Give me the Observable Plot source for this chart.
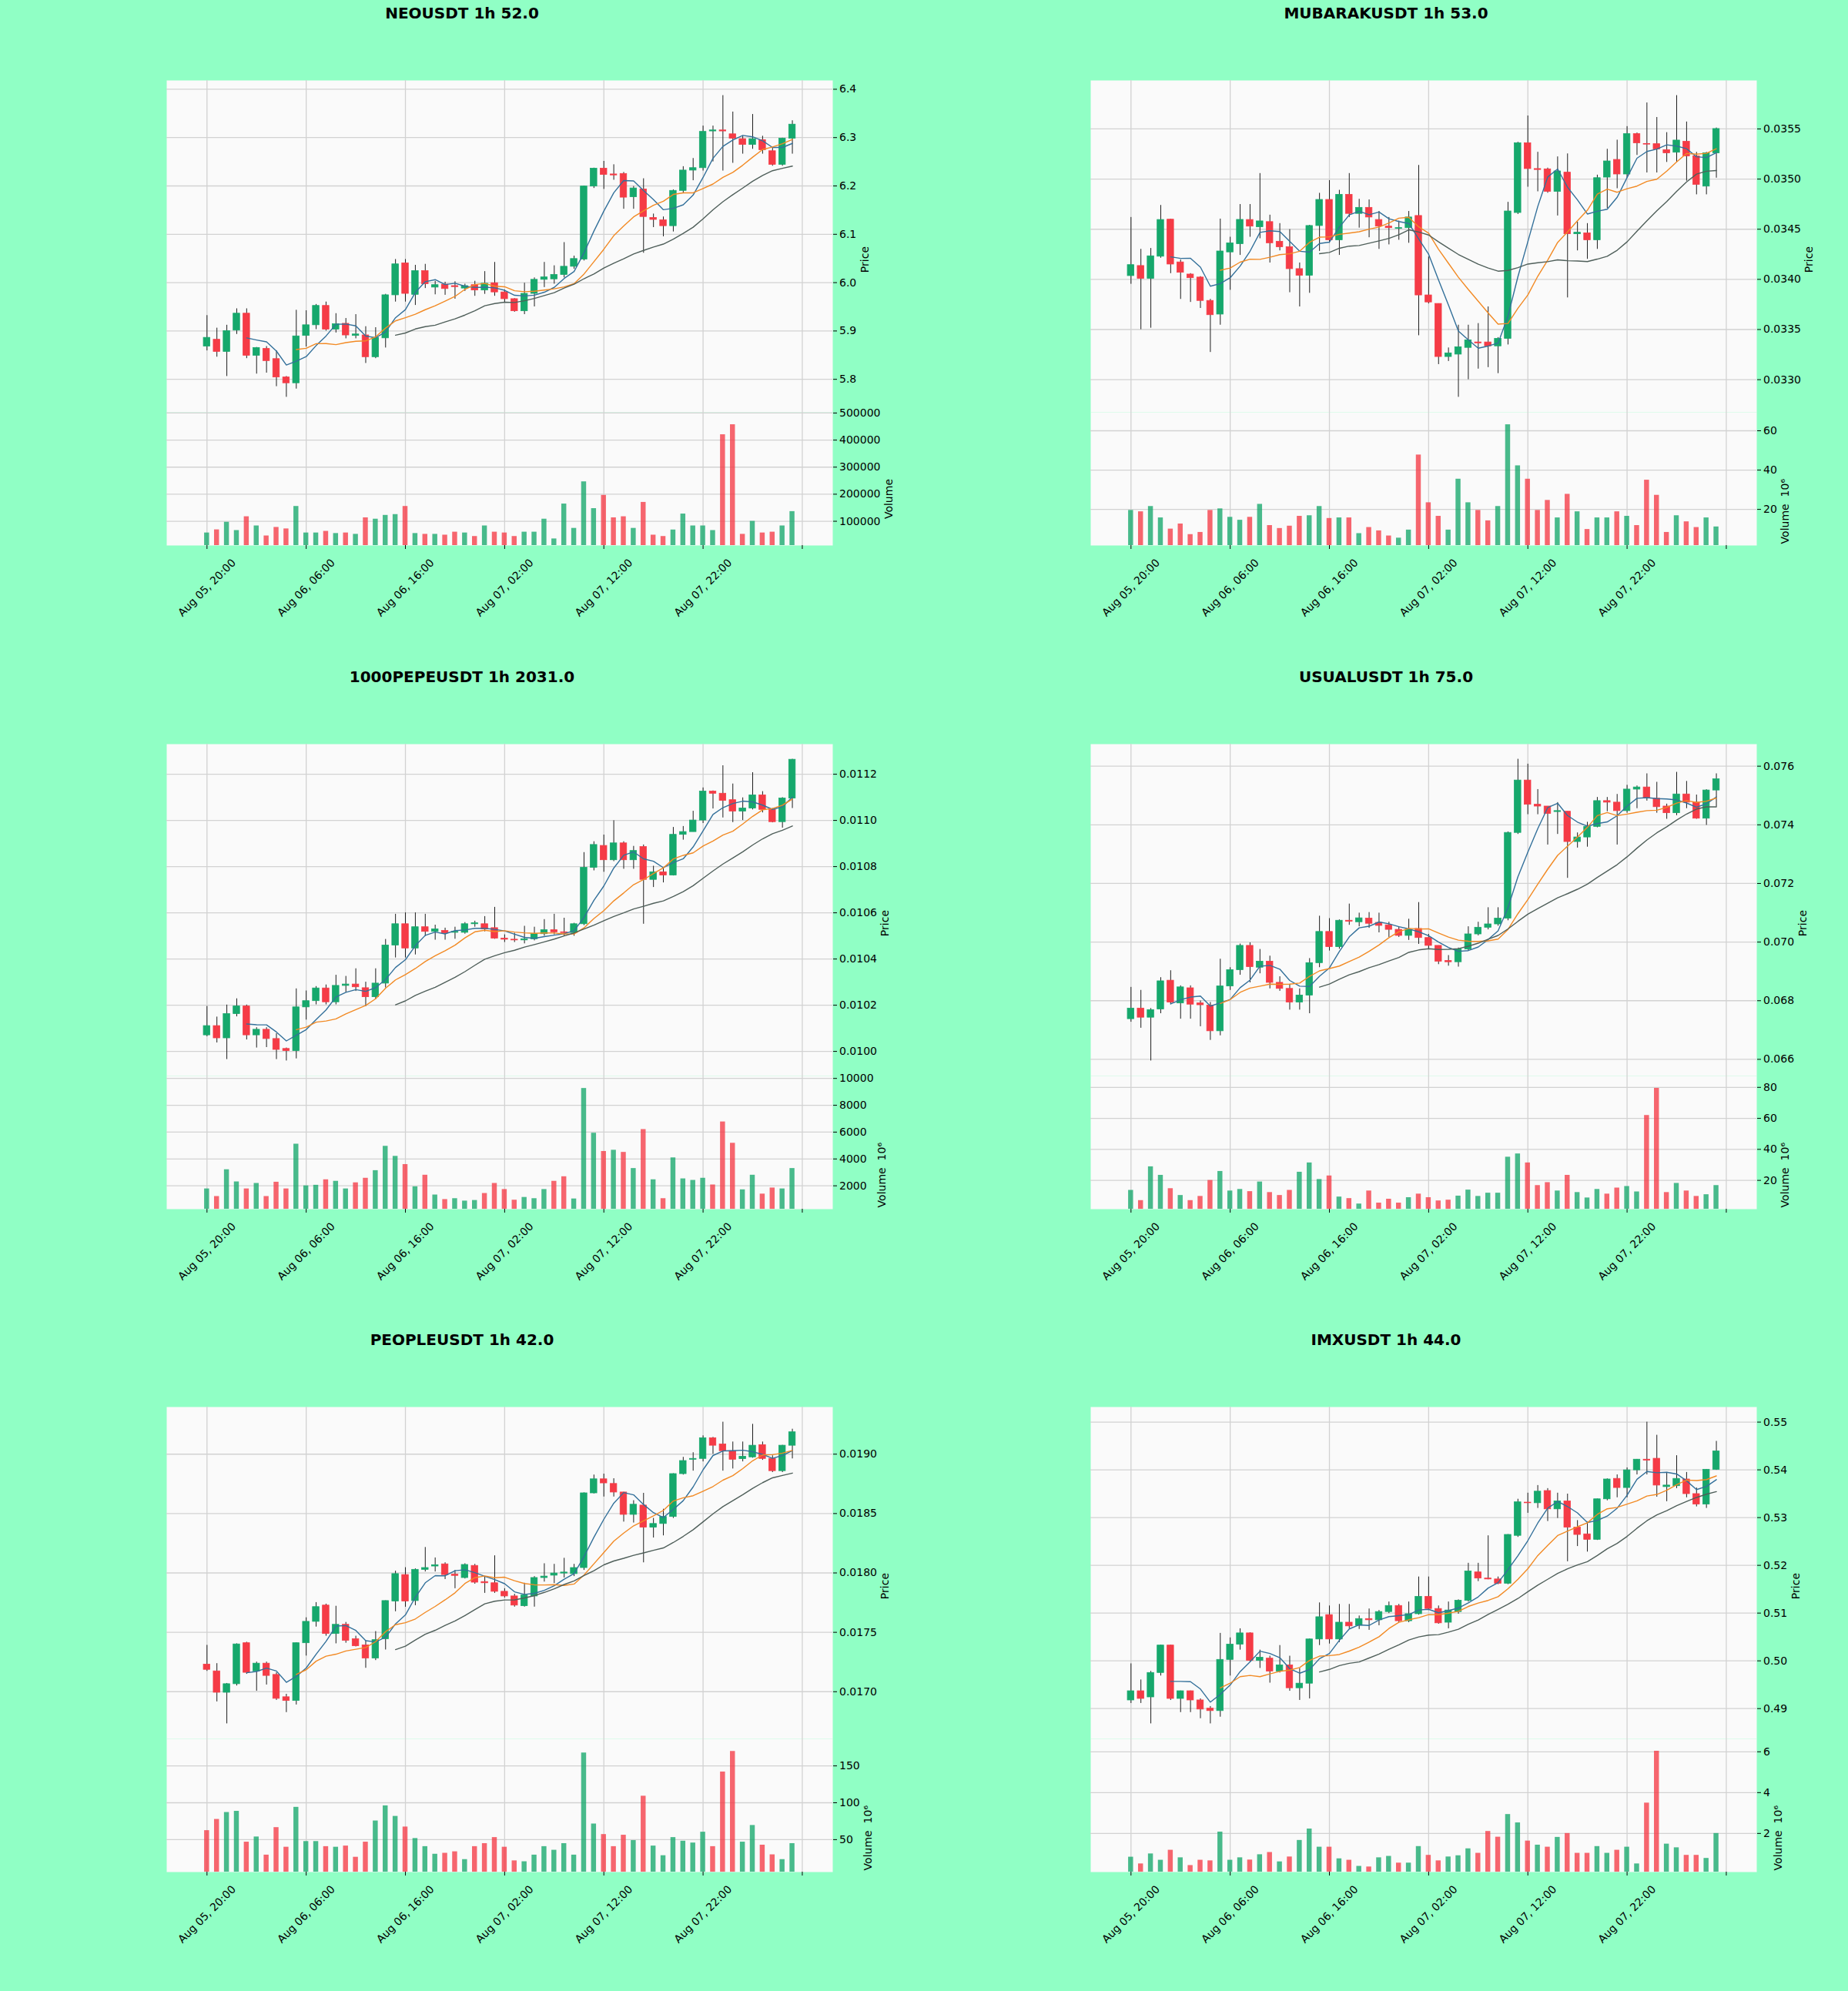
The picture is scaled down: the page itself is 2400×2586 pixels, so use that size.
<!DOCTYPE html>
<html><head><meta charset="utf-8">
<script src="https://cdn.jsdelivr.net/npm/d3@7"></script>
<script src="https://cdn.jsdelivr.net/npm/@observablehq/plot@0.6"></script>
<style>
html,body{margin:0;padding:0;background:#90ffc5;}
#fig{position:relative;width:2400px;height:2586px;background:#90ffc5;font-family:"DejaVu Sans",sans-serif;overflow:hidden;}
.title{position:absolute;width:1200px;text-align:center;font-weight:bold;font-size:20px;color:#000;line-height:20px;}
.panel{position:absolute;width:1005px;line-height:0;}
.panel svg{overflow:visible;max-width:none !important;display:block;}
</style></head><body><div id="fig"></div>
<script>
// ---------- titles & axis labels ----------
const titles = ["NEOUSDT 1h 52.0","MUBARAKUSDT 1h 53.0","1000PEPEUSDT 1h 2031.0","USUALUSDT 1h 75.0","PEOPLEUSDT 1h 42.0","IMXUSDT 1h 44.0"];
const xTickIndex = [0,10,20,30,40,50,60];
const xTickLabels = ["Aug 05, 20:00","Aug 06, 06:00","Aug 06, 16:00","Aug 07, 02:00","Aug 07, 12:00","Aug 07, 22:00",""];
const volumeLabels = ["Volume","Volume  10\u2076","Volume  10\u2076","Volume  10\u2076","Volume  10\u2076","Volume  10\u2076"];

// ---------- NEOUSDT ----------
const neoOpen = [5.868,5.882,5.857,5.901,5.936,5.849,5.863,5.842,5.804,5.792,5.890,5.912,5.952,5.903,5.915,5.890,5.891,5.846,5.885,5.974,6.040,5.975,6.024,5.990,5.996,5.993,5.988,5.995,5.984,5.999,5.980,5.966,5.941,5.977,6.006,6.007,6.016,6.033,6.048,6.199,6.236,6.224,6.225,6.177,6.193,6.134,6.129,6.117,6.190,6.232,6.237,6.313,6.315,6.307,6.297,6.285,6.295,6.272,6.244,6.298];
const neoHigh = [5.932,5.906,5.912,5.946,5.946,5.866,5.868,5.859,5.806,5.943,5.942,5.955,5.960,5.936,5.926,5.934,5.909,5.907,5.976,6.048,6.048,6.036,6.038,6.003,6.001,6.002,5.997,6.003,6.023,6.042,5.985,5.967,5.999,6.010,6.042,6.035,6.083,6.055,6.200,6.237,6.251,6.244,6.228,6.199,6.215,6.142,6.136,6.192,6.240,6.257,6.324,6.324,6.387,6.353,6.303,6.348,6.303,6.278,6.299,6.335];
const neoLow = [5.859,5.846,5.806,5.893,5.843,5.811,5.813,5.785,5.763,5.780,5.867,5.903,5.900,5.896,5.884,5.884,5.833,5.843,5.865,5.960,5.960,5.953,5.988,5.975,5.974,5.966,5.982,5.972,5.976,5.972,5.959,5.939,5.934,5.950,5.990,5.997,6.010,6.028,6.045,6.195,6.193,6.212,6.152,6.152,6.061,6.114,6.095,6.105,6.184,6.211,6.231,6.250,6.231,6.247,6.266,6.276,6.266,6.241,6.241,6.266];
const neoClose = [5.886,5.857,5.900,5.936,5.849,5.865,5.838,5.804,5.792,5.889,5.912,5.952,5.903,5.914,5.891,5.893,5.846,5.886,5.974,6.038,5.977,6.024,5.997,5.995,5.987,5.991,5.993,5.984,5.998,5.980,5.966,5.941,5.977,6.006,6.011,6.016,6.033,6.049,6.199,6.236,6.223,6.222,6.176,6.195,6.136,6.130,6.117,6.190,6.232,6.237,6.312,6.315,6.313,6.298,6.285,6.297,6.274,6.244,6.298,6.327];
const neoVolume = [57000,68500,96600,66000,117000,83000,46000,77500,72000,155000,57000,57000,63000,55000,57000,52000,113000,108000,122000,125000,155000,55000,52000,52000,49000,60000,57000,44000,83000,60000,57000,44000,60000,60000,108000,35000,164000,74000,246000,147000,196000,113000,117000,74000,170000,49000,44000,68000,127000,83000,83000,66000,420000,457000,52000,100000,57000,60000,83000,136000];
const neoPriceTicks = [5.8,5.9,6.0,6.1,6.2,6.3,6.4];
const neoVolumeTicks = [100000,200000,300000,400000,500000];

// ---------- MUBARAKUSDT ----------
const mubOpen = [0.034034,0.034134,0.034007,0.034227,0.034596,0.034170,0.034049,0.034019,0.033786,0.033650,0.034270,0.034352,0.034593,0.034521,0.034572,0.034376,0.034321,0.034103,0.034037,0.034533,0.034793,0.034391,0.034844,0.034654,0.034714,0.034593,0.034527,0.034505,0.034512,0.034633,0.033841,0.033756,0.033227,0.033251,0.033318,0.033372,0.033372,0.033333,0.033408,0.034663,0.035358,0.035101,0.035098,0.034874,0.035065,0.034451,0.034460,0.034391,0.035016,0.035192,0.035047,0.035449,0.035351,0.035349,0.035289,0.035264,0.035373,0.035228,0.034926,0.035258];
const mubHigh = [0.034618,0.034300,0.034309,0.034738,0.034600,0.034194,0.034058,0.034028,0.033801,0.034602,0.034421,0.034747,0.034747,0.035056,0.034641,0.034557,0.034497,0.034164,0.034540,0.034859,0.034986,0.034889,0.035056,0.034799,0.034793,0.034678,0.034618,0.034582,0.034678,0.035137,0.034224,0.033756,0.033317,0.033544,0.033544,0.033560,0.033726,0.033420,0.034769,0.035368,0.035630,0.035268,0.035110,0.035222,0.035252,0.034572,0.034557,0.035040,0.035298,0.035389,0.035524,0.035460,0.035760,0.035615,0.035464,0.035833,0.035570,0.035267,0.035267,0.035510];
const mubLow = [0.033952,0.033499,0.033514,0.034212,0.034058,0.033801,0.033771,0.033711,0.033272,0.033544,0.033892,0.034240,0.034421,0.034406,0.034164,0.034285,0.033868,0.033726,0.033862,0.034280,0.034361,0.034240,0.034618,0.034512,0.034416,0.034300,0.034345,0.034391,0.034361,0.033439,0.033756,0.033151,0.033182,0.032825,0.033000,0.033106,0.033121,0.033061,0.033347,0.034648,0.034920,0.034874,0.034860,0.034633,0.033816,0.034285,0.034201,0.034300,0.034708,0.034905,0.035010,0.035237,0.035062,0.035062,0.035167,0.035167,0.034980,0.034844,0.034844,0.035010];
const mubClose = [0.034143,0.034007,0.034231,0.034593,0.034149,0.034067,0.034013,0.033786,0.033644,0.034279,0.034360,0.034594,0.034527,0.034579,0.034361,0.034321,0.034103,0.034037,0.034533,0.034793,0.034391,0.034844,0.034654,0.034714,0.034618,0.034527,0.034512,0.034512,0.034618,0.033841,0.033771,0.033227,0.033263,0.033324,0.033393,0.033363,0.033333,0.033408,0.034678,0.035358,0.035101,0.035092,0.034874,0.035077,0.034451,0.034466,0.034391,0.035010,0.035177,0.035047,0.035449,0.035358,0.035345,0.035297,0.035258,0.035385,0.035228,0.034944,0.035258,0.035500];
const mubVolume = [19.5,18.8,21.5,15.7,10.0,12.6,7.2,8.3,19.5,20.3,16.0,14.5,16.0,22.6,11.8,10.3,11.5,16.5,16.8,21.5,15.4,15.7,15.7,7.7,10.8,9.1,6.5,5.4,9.5,47.7,23.4,16.5,9.5,35.4,23.4,19.5,14.2,21.5,63.1,42.2,35.4,19.5,24.6,15.7,27.7,18.8,9.8,15.7,15.7,18.8,16.5,11.8,34.9,27.2,8.3,16.8,13.7,10.8,15.7,11.1];
const mubPriceTicks = [0.0330,0.0335,0.0340,0.0345,0.0350,0.0355];
const mubVolumeTicks = [20,40,60];

// ---------- 1000PEPEUSDT ----------
const pepeOpen = [0.010070,0.010110,0.010057,0.010162,0.010195,0.010070,0.010094,0.010054,0.010011,0.010002,0.010191,0.010218,0.010273,0.010213,0.010284,0.010290,0.010274,0.010235,0.010294,0.010459,0.010551,0.010446,0.010538,0.010518,0.010522,0.010514,0.010514,0.010551,0.010551,0.010534,0.010489,0.010484,0.010481,0.010486,0.010508,0.010525,0.010516,0.010513,0.010551,0.010795,0.010890,0.010828,0.010901,0.010828,0.010885,0.010743,0.010776,0.010762,0.010938,0.010950,0.011000,0.011125,0.011116,0.011088,0.011039,0.011052,0.011109,0.011046,0.010993,0.011095];
const pepeHigh = [0.010195,0.010149,0.010201,0.010228,0.010201,0.010103,0.010103,0.010077,0.010015,0.010271,0.010262,0.010281,0.010288,0.010330,0.010325,0.010358,0.010300,0.010358,0.010485,0.010594,0.010600,0.010600,0.010594,0.010547,0.010534,0.010538,0.010558,0.010564,0.010584,0.010624,0.010505,0.010512,0.010542,0.010538,0.010571,0.010594,0.010577,0.010555,0.010861,0.010908,0.010937,0.010999,0.010908,0.010888,0.010894,0.010802,0.010796,0.010970,0.010974,0.011040,0.011141,0.011128,0.011237,0.011158,0.011098,0.011207,0.011125,0.011052,0.011099,0.011265];
const pepeLow = [0.010064,0.010037,0.009965,0.010150,0.010050,0.010015,0.010017,0.009965,0.009959,0.009968,0.010136,0.010202,0.010202,0.010202,0.010255,0.010260,0.010194,0.010226,0.010275,0.010405,0.010405,0.010418,0.010498,0.010482,0.010482,0.010486,0.010508,0.010538,0.010518,0.010486,0.010472,0.010472,0.010466,0.010479,0.010499,0.010505,0.010499,0.010499,0.010545,0.010782,0.010776,0.010822,0.010789,0.010789,0.010551,0.010710,0.010730,0.010760,0.010915,0.010950,0.010987,0.011050,0.011011,0.010991,0.011000,0.011046,0.011033,0.010990,0.010967,0.011052];
const pepeClose = [0.010110,0.010057,0.010162,0.010195,0.010070,0.010094,0.010054,0.010007,0.010002,0.010191,0.010218,0.010273,0.010213,0.010284,0.010290,0.010278,0.010235,0.010294,0.010459,0.010551,0.010446,0.010538,0.010518,0.010529,0.010512,0.010518,0.010551,0.010555,0.010529,0.010489,0.010484,0.010481,0.010486,0.010508,0.010525,0.010516,0.010513,0.010551,0.010795,0.010894,0.010828,0.010901,0.010828,0.010868,0.010743,0.010776,0.010762,0.010938,0.010950,0.011000,0.011125,0.011116,0.011085,0.011039,0.011052,0.011109,0.011046,0.010993,0.011095,0.011263];
const pepeVolume = [1773,1206,3202,2295,1773,2181,1206,2272,1773,5107,2000,2045,2454,2340,1773,2227,2567,3134,4948,4200,3588,1932,2794,1320,979,1047,866,911,1433,2181,1728,934,1138,1047,1728,2340,2680,1025,9258,5924,4563,4654,4495,3293,6196,2454,1047,4087,2522,2408,2567,2068,6763,5175,1705,2794,1388,1841,1773,3293];
const pepePriceTicks = [0.0100,0.0102,0.0104,0.0106,0.0108,0.0110,0.0112];
const pepeVolumeTicks = [2000,4000,6000,8000,10000];

// ---------- USUALUSDT ----------
const usualOpen = [0.067374,0.067735,0.067425,0.067704,0.068686,0.067911,0.068427,0.067911,0.067839,0.066961,0.068490,0.069047,0.069874,0.069130,0.069336,0.068613,0.068407,0.067942,0.068180,0.069285,0.070349,0.069832,0.070731,0.070680,0.070803,0.070659,0.070576,0.070421,0.070215,0.070452,0.070142,0.069874,0.069357,0.069316,0.069750,0.070266,0.070493,0.070607,0.070803,0.073727,0.075514,0.074688,0.074626,0.074440,0.074450,0.073417,0.073572,0.073934,0.074812,0.074760,0.074471,0.075205,0.075277,0.074894,0.074626,0.074399,0.075039,0.074760,0.074213,0.075174];
const usualHigh = [0.068458,0.068355,0.067735,0.068789,0.069026,0.068510,0.068510,0.067994,0.067942,0.069419,0.069130,0.069936,0.069977,0.069750,0.069523,0.068820,0.068562,0.068407,0.069440,0.070886,0.070804,0.070760,0.071299,0.070990,0.071010,0.070990,0.070680,0.070525,0.070783,0.071351,0.070266,0.069874,0.069543,0.069800,0.070525,0.070680,0.071175,0.071175,0.073760,0.076238,0.076072,0.075205,0.074626,0.074760,0.074450,0.073727,0.074089,0.074936,0.074936,0.075039,0.075350,0.075328,0.075742,0.075453,0.074709,0.075793,0.075483,0.075018,0.075200,0.075742];
const usualLow = [0.067270,0.067064,0.065948,0.067560,0.067870,0.067374,0.067374,0.067116,0.066650,0.066806,0.068354,0.068872,0.068613,0.068923,0.068407,0.068324,0.067683,0.067683,0.067560,0.069130,0.069698,0.069760,0.070576,0.070525,0.070473,0.070318,0.070163,0.070163,0.070060,0.069925,0.069750,0.069234,0.069182,0.069150,0.069698,0.070215,0.070421,0.070545,0.070731,0.073675,0.074348,0.074348,0.073314,0.073675,0.072178,0.073210,0.073241,0.073902,0.074450,0.073314,0.074399,0.074554,0.074812,0.074399,0.074192,0.074316,0.074554,0.074192,0.073985,0.074606];
const usualClose = [0.067735,0.067425,0.067683,0.068665,0.067942,0.068458,0.067870,0.067849,0.066961,0.068490,0.069047,0.069874,0.069150,0.069336,0.068613,0.068407,0.067942,0.068180,0.069285,0.070349,0.069832,0.070731,0.070700,0.070814,0.070628,0.070556,0.070421,0.070215,0.070421,0.070142,0.069874,0.069337,0.069316,0.069750,0.070266,0.070493,0.070607,0.070803,0.073727,0.075514,0.074688,0.074626,0.074378,0.074471,0.073417,0.073572,0.073934,0.074812,0.074760,0.074471,0.075205,0.075277,0.074915,0.074605,0.074399,0.075039,0.074760,0.074213,0.075174,0.075556];
const usualVolume = [13.6,7.0,28.8,23.3,14.7,10.3,7.0,9.7,20.0,25.8,13.2,14.2,12.8,19.0,12.2,10.3,13.6,25.3,31.3,20.6,22.9,9.3,8.3,4.8,13.2,5.4,7.9,5.4,8.9,11.2,8.9,6.8,7.3,9.9,13.8,9.7,11.8,11.8,35.0,37.1,31.3,16.7,18.6,13.2,23.3,12.2,8.7,14.2,11.2,15.1,16.1,12.6,61.9,79.4,12.2,18.1,13.2,9.7,10.8,16.7];
const usualPriceTicks = [0.066,0.068,0.070,0.072,0.074,0.076];
const usualVolumeTicks = [20,40,60,80];

// ---------- PEOPLEUSDT ----------
const peopleOpen = [0.017229,0.017172,0.016992,0.017064,0.017409,0.017172,0.017237,0.017142,0.016954,0.016923,0.017409,0.017589,0.017726,0.017487,0.017564,0.017443,0.017391,0.017281,0.017443,0.017761,0.017983,0.017764,0.018027,0.018055,0.018073,0.017986,0.017958,0.018060,0.017924,0.017914,0.017842,0.017803,0.017721,0.017803,0.017958,0.017978,0.017996,0.017991,0.018042,0.018671,0.018789,0.018750,0.018678,0.018490,0.018568,0.018382,0.018413,0.018472,0.018833,0.018954,0.018961,0.019134,0.019082,0.019026,0.018959,0.018974,0.019077,0.018961,0.018858,0.019072];
const peopleHigh = [0.017391,0.017237,0.017070,0.017404,0.017417,0.017250,0.017250,0.017160,0.016979,0.017412,0.017623,0.017751,0.017738,0.017720,0.017584,0.017468,0.017430,0.017507,0.017766,0.018016,0.018045,0.018035,0.018215,0.018127,0.018086,0.018022,0.018078,0.018073,0.017970,0.018145,0.017868,0.017821,0.017914,0.017970,0.018078,0.018073,0.018124,0.018073,0.018675,0.018825,0.018833,0.018794,0.018680,0.018609,0.018671,0.018460,0.018537,0.018836,0.018974,0.019013,0.019155,0.019142,0.019270,0.019103,0.019103,0.019252,0.019103,0.018987,0.019075,0.019211];
const peopleLow = [0.017172,0.016915,0.016730,0.017049,0.017147,0.017005,0.017057,0.016928,0.016825,0.016889,0.017301,0.017545,0.017468,0.017404,0.017409,0.017378,0.017198,0.017263,0.017352,0.017674,0.017712,0.017725,0.018009,0.018009,0.017945,0.017868,0.017950,0.017906,0.017829,0.017829,0.017790,0.017713,0.017713,0.017713,0.017924,0.017911,0.017958,0.017970,0.018022,0.018666,0.018640,0.018640,0.018429,0.018421,0.018086,0.018295,0.018313,0.018460,0.018825,0.018858,0.018936,0.019000,0.018858,0.018876,0.018936,0.018967,0.018949,0.018846,0.018846,0.018961];
const peopleClose = [0.017185,0.016992,0.017064,0.017399,0.017160,0.017237,0.017134,0.016941,0.016923,0.017409,0.017589,0.017713,0.017487,0.017564,0.017430,0.017384,0.017281,0.017435,0.017764,0.017991,0.017761,0.018027,0.018042,0.018066,0.017983,0.017976,0.018068,0.017919,0.017914,0.017842,0.017803,0.017726,0.017811,0.017958,0.017970,0.017996,0.018004,0.018042,0.018671,0.018789,0.018755,0.018678,0.018490,0.018575,0.018382,0.018413,0.018472,0.018833,0.018943,0.018961,0.019134,0.019072,0.019026,0.018954,0.018979,0.019072,0.018961,0.018858,0.019072,0.019185];
const peopleVolume = [62.3,77.5,86.9,88.5,46.7,53.7,29.1,66.4,39.8,93.9,47.5,47.5,40.6,39.8,41.4,26.2,46.7,75.4,95.9,81.6,67.2,51.6,40.6,30.3,31.6,33.6,23.0,40.6,44.7,52.9,39.8,21.3,20.1,29.1,40.6,35.7,44.7,29.1,167.6,71.3,57.0,40.6,56.1,48.8,109.0,41.4,28.3,52.9,48.0,45.5,60.2,40.6,141.8,169.7,46.7,69.3,42.6,29.5,23.0,44.7];
const peoplePriceTicks = [0.0170,0.0175,0.0180,0.0185,0.0190];
const peopleVolumeTicks = [50,100,150];

// ---------- IMXUSDT ----------
const imxOpen = [0.49173,0.49365,0.49237,0.49748,0.50322,0.49205,0.49365,0.49173,0.49000,0.48950,0.50022,0.50341,0.50577,0.50003,0.50048,0.49779,0.49907,0.49428,0.49524,0.50450,0.50960,0.50450,0.50801,0.50737,0.50877,0.50852,0.51024,0.51151,0.50832,0.50979,0.51343,0.51088,0.50801,0.51024,0.51260,0.51854,0.51726,0.51707,0.51618,0.52620,0.53315,0.53303,0.53558,0.53175,0.53341,0.52792,0.52651,0.52537,0.53385,0.53813,0.53622,0.53992,0.54215,0.54234,0.53641,0.53660,0.53800,0.53494,0.53277,0.54004];
const imxHigh = [0.49939,0.49601,0.49780,0.50330,0.50330,0.49370,0.49370,0.49205,0.49045,0.50577,0.50482,0.50673,0.50590,0.50226,0.50099,0.50322,0.50099,0.49843,0.50460,0.51215,0.51151,0.51183,0.51183,0.50941,0.51088,0.51056,0.51234,0.51183,0.51234,0.51758,0.51758,0.51151,0.51234,0.51279,0.52045,0.52045,0.52620,0.51758,0.52645,0.53386,0.53513,0.53673,0.53609,0.53513,0.53494,0.52939,0.52907,0.53390,0.53813,0.53896,0.54043,0.54220,0.55000,0.54726,0.53947,0.54298,0.53947,0.53622,0.54010,0.54598];
const imxLow = [0.49109,0.49109,0.48682,0.49684,0.49173,0.48918,0.48918,0.48790,0.48682,0.48822,0.49684,0.50226,0.49971,0.49843,0.49535,0.49748,0.49365,0.49173,0.49205,0.50322,0.50354,0.50386,0.50673,0.50660,0.50641,0.50737,0.50992,0.50801,0.50801,0.50960,0.51056,0.50769,0.50673,0.50979,0.51234,0.51662,0.51700,0.51598,0.51598,0.52588,0.53092,0.53194,0.52920,0.52984,0.52077,0.52396,0.52280,0.52524,0.53354,0.53417,0.53417,0.53896,0.53896,0.53430,0.53335,0.53609,0.53417,0.53226,0.53194,0.53992];
const imxClose = [0.49365,0.49205,0.49748,0.50322,0.49205,0.49365,0.49173,0.48982,0.48950,0.50022,0.50341,0.50577,0.50003,0.50067,0.49779,0.49907,0.49428,0.49524,0.50450,0.50915,0.50450,0.50801,0.50724,0.50877,0.50852,0.51024,0.51151,0.50832,0.50979,0.51343,0.51088,0.50788,0.51056,0.51260,0.51873,0.51726,0.51707,0.51618,0.52639,0.53322,0.53303,0.53545,0.53175,0.53341,0.52792,0.52639,0.52537,0.53385,0.53800,0.53622,0.53992,0.54215,0.54196,0.53673,0.53673,0.53813,0.53494,0.53277,0.54004,0.54387];
const imxVolume = [0.84,0.51,1.0,0.69,1.18,0.81,0.43,0.69,0.66,2.07,0.69,0.81,0.70,0.96,1.07,0.61,0.85,1.66,2.22,1.33,1.33,0.76,0.69,0.39,0.36,0.81,0.88,0.55,0.55,1.36,0.93,0.66,0.85,0.91,1.25,1.03,2.10,1.82,2.93,2.52,1.63,1.43,1.33,1.81,2.0,1.03,1.03,1.36,1.03,1.18,1.33,0.51,3.49,6.03,1.48,1.30,0.93,0.93,0.78,2.0];
const imxPriceTicks = [0.49,0.50,0.51,0.52,0.53,0.54,0.55];
const imxVolumeTicks = [2,4,6];

// ---------- styling ----------
const UP = "#16a86c", DOWN = "#f53b46", WICK = "#1e1e1e";
const MA_COLORS = ["#33709a", "#f28a24", "#4f5f5a"];
const MA_WINDOWS = [5, 10, 20];
const GRID = "#d2d2d2";
const FONT = "DejaVu Sans";
const colX = [216, 1416];
const rowY = [104, 966, 1827];
const plotW = 865, priceH = 431, volH = 173;
const xDomain = [-4.06, 63.07];
const mR = 140, mB = 130;

const panels = [
  {o:neoOpen,h:neoHigh,l:neoLow,c:neoClose,v:neoVolume,pt:neoPriceTicks,vt:neoVolumeTicks,dec:1},
  {o:mubOpen,h:mubHigh,l:mubLow,c:mubClose,v:mubVolume,pt:mubPriceTicks,vt:mubVolumeTicks,dec:4},
  {o:pepeOpen,h:pepeHigh,l:pepeLow,c:pepeClose,v:pepeVolume,pt:pepePriceTicks,vt:pepeVolumeTicks,dec:4},
  {o:usualOpen,h:usualHigh,l:usualLow,c:usualClose,v:usualVolume,pt:usualPriceTicks,vt:usualVolumeTicks,dec:3},
  {o:peopleOpen,h:peopleHigh,l:peopleLow,c:peopleClose,v:peopleVolume,pt:peoplePriceTicks,vt:peopleVolumeTicks,dec:4},
  {o:imxOpen,h:imxHigh,l:imxLow,c:imxClose,v:imxVolume,pt:imxPriceTicks,vt:imxVolumeTicks,dec:2}
];

// approximate DejaVu Sans width of numeric labels
function textW(s, size) {
  let w = 0;
  for (const ch of s) w += (ch === "." ? 0.318 : 0.636);
  return w * size;
}
function movingAvg(c, n) {
  return c.map((_, i) => i < n - 1 ? NaN : d3.mean(c.slice(i - n + 1, i + 1)));
}

const fig = document.getElementById("fig");

panels.forEach((p, k) => {
  const col = k % 2, row = Math.floor(k / 2);
  const left = colX[col], top = rowY[row];

  const data = p.o.map((_, i) => ({
    i, open: p.o[i], high: p.h[i], low: p.l[i], close: p.c[i], vol: p.v[i],
    col: p.c[i] >= p.o[i] ? UP : DOWN
  }));
  const mas = MA_WINDOWS.map(n => movingAvg(p.c, n));
  mas.forEach((m, j) => data.forEach((d, i) => d["ma" + j] = m[i]));

  const lo = d3.min(p.l), hi = d3.max(p.h), r = hi - lo;
  const yDomain = [lo - 0.05 * r, hi + 0.05 * r];
  const vDomain = [0.3 * d3.min(p.v), 1.1 * d3.max(p.v)];

  const fmtP = d3.format("." + p.dec + "f");
  const fmtV = d3.format("d");
  const pw = d3.max(p.pt, t => textW(fmtP(t), 14));
  const vw = d3.max(p.vt, t => textW(fmtV(t), 14));

  const t = document.createElement("div");
  t.className = "title";
  t.style.left = (col * 1200) + "px";
  t.style.top = (top - 97) + "px";
  t.textContent = titles[k];
  fig.appendChild(t);

  const common = {
    style: {background: "transparent", fontFamily: FONT, fontSize: "14px", color: "#000", overflow: "visible", maxWidth: "none"},
    color: {type: "identity"}
  };

  const price = Plot.plot({
    ...common,
    width: plotW + mR, height: priceH,
    marginLeft: 0, marginRight: mR, marginTop: 0, marginBottom: 0,
    x: {domain: xDomain, axis: null},
    y: {domain: yDomain, axis: null},
    marks: [
      Plot.frame({fill: "#fafafa", stroke: null}),
      Plot.gridX(xTickIndex, {stroke: GRID, strokeOpacity: 1, strokeWidth: 1.3}),
      Plot.gridY(p.pt, {stroke: GRID, strokeOpacity: 1, strokeWidth: 1.3}),
      Plot.ruleX(data, {x: "i", y1: "low", y2: "high", stroke: WICK, strokeWidth: 1}),
      Plot.rect(data, {x1: d => d.i - 0.33, x2: d => d.i + 0.33, y1: "open", y2: "close", fill: "col", stroke: "col", strokeWidth: 0.8}),
      ...MA_COLORS.map((c, j) => Plot.line(data, {x: "i", y: "ma" + j, stroke: c, strokeWidth: 1.4})),
      Plot.axisY(p.pt, {anchor: "right", tickSize: 5, tickPadding: 3.5, tickFormat: fmtP, label: null, fontSize: 14}),
      Plot.text(["Price"], {frameAnchor: "right", dx: 19.5 + pw, rotate: -90, fontSize: 14, text: d => d, fill: "#000"})
    ]
  });

  const volume = Plot.plot({
    ...common,
    width: plotW + mR, height: volH + mB,
    marginLeft: 0, marginRight: mR, marginTop: 0, marginBottom: mB,
    x: {domain: xDomain, axis: null},
    y: {domain: vDomain, axis: null},
    marks: [
      Plot.frame({fill: "#fafafa", stroke: null}),
      Plot.gridX(xTickIndex, {stroke: GRID, strokeOpacity: 1, strokeWidth: 1.3}),
      Plot.gridY(p.vt, {stroke: GRID, strokeOpacity: 1, strokeWidth: 1.3}),
      Plot.rectY(data, {x1: d => d.i - 0.25, x2: d => d.i + 0.25, y1: vDomain[0], y2: "vol", fill: "col", fillOpacity: 0.78}),
      Plot.axisY(p.vt, {anchor: "right", tickSize: 5, tickPadding: 3.5, tickFormat: fmtV, label: null, fontSize: 14}),
      Plot.axisX(xTickIndex, {anchor: "bottom", tickSize: 5, tickFormat: () => "", label: null}),
      Plot.text(xTickIndex.map((x, j) => ({x, label: xTickLabels[j]})), {
        x: "x", text: "label", frameAnchor: "bottom", dy: 55, rotate: -45,
        textAnchor: "middle", lineAnchor: "middle", fontSize: 14, fill: "#000"
      }),
      Plot.text([volumeLabels[k]], {frameAnchor: "right", dx: 19.5 + vw, rotate: -90, fontSize: 14, text: d => d, fill: "#000"})
    ]
  });

  const dp = document.createElement("div");
  dp.className = "panel";
  dp.style.left = left + "px"; dp.style.top = top + "px";
  dp.appendChild(price);
  fig.appendChild(dp);

  const dv = document.createElement("div");
  dv.className = "panel";
  dv.style.left = left + "px"; dv.style.top = (top + priceH) + "px";
  dv.appendChild(volume);
  fig.appendChild(dv);
});
</script></body></html>
